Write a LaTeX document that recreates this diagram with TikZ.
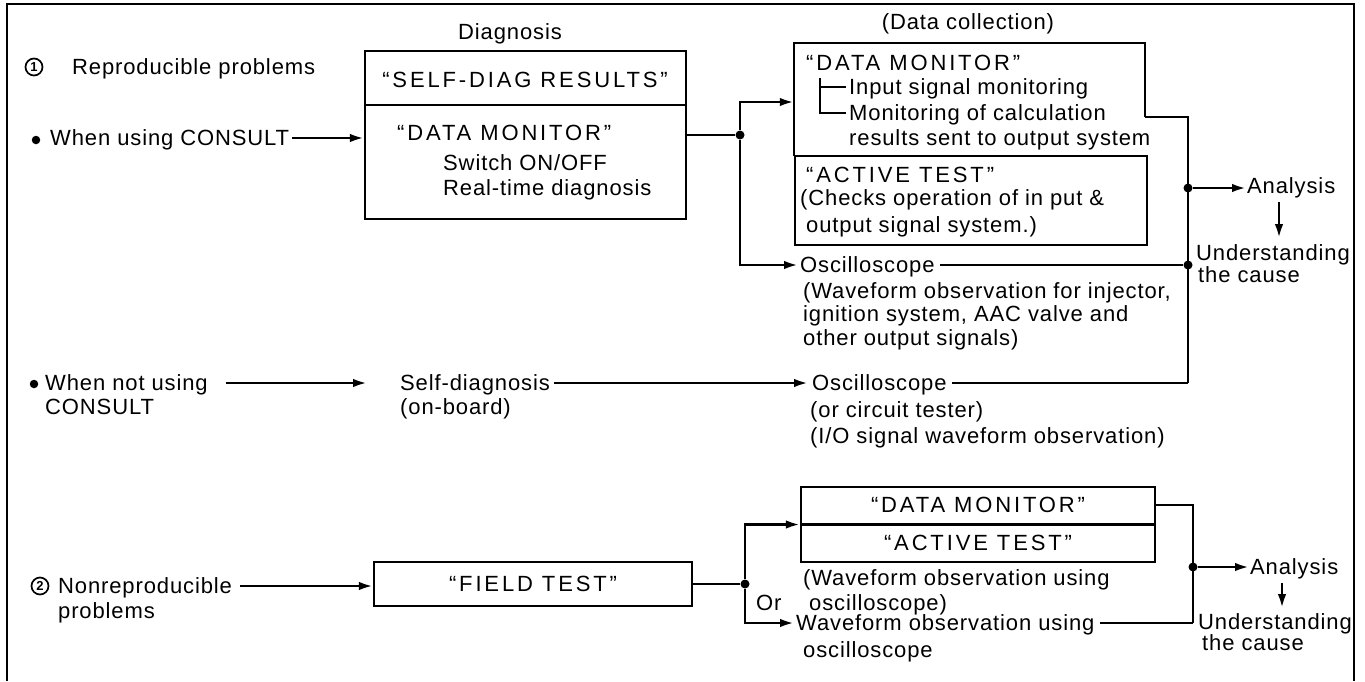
\documentclass[tikz,border=0pt]{standalone}
\usepackage{fontspec}
\setmainfont{Liberation Sans}[LetterSpace=4]
\newfontfamily\capsfont{Liberation Sans}[LetterSpace=13]
\usetikzlibrary{arrows.meta,calc}
\begin{document}
\begin{tikzpicture}[x=1pt,y=-1pt,font=\fontsize{22}{24}\selectfont,
  txt/.style={anchor=west,inner sep=0pt,text height=15.75pt,text depth=0pt},
  ctxt/.style={anchor=center,inner sep=0pt,text height=15.75pt,text depth=0pt},
  caps/.style={font={\capsfont\fontsize{22}{24}\selectfont}},
  circnum/.style={draw,circle,line width=1.7pt,minimum size=17pt,inner sep=0pt,
    font={\bfseries\fontsize{13}{13}\selectfont}},
  bullet/.style={circle,fill,inner sep=0pt,minimum size=8.5pt},
  boxst/.style={draw,line width=2.2pt,inner sep=0pt},
  boxline/.style={line width=2.2pt},
  conn/.style={line width=2.6pt},
  arr/.style={conn,-{Latex[length=14pt,width=8.5pt]}},
  jdot/.style={circle,fill,inner sep=0pt,minimum size=9pt},
  frame/.style={line width=2.2pt}]
\useasboundingbox (0,0) rectangle (1365,681);
% frame
\draw[frame] (7,681) -- (7,4) -- (1354,4) -- (1354,681);

% headings
\node[ctxt] (dcoll) at (968,22) {(Data collection)};
\node[ctxt] (diagh) at (510,32) {Diagnosis};
\node[circnum] (num1) at (34,67) {1};
\node[txt] (repro) at (72,67) {Reproducible problems};

% box A
\node[boxst,minimum width=321pt,minimum height=168pt] (boxA) at (525.5,135) {};
\draw[boxline] (boxA.west |- 0,105) -- (boxA.east |- 0,105);
\node[ctxt,caps] (selfd) at (525,80) {“SELF-DIAG RESULTS”};
\node[txt,caps] (dmA) at (397,133) {“DATA MONITOR”};
\node[txt] (swA) at (443,163) {Switch ON/OFF};
\node[txt] (rtA) at (443,188) {Real-time diagnosis};

\node[bullet] (bul1) at (36,140) {};
\node[txt] (use) at (50,138) {When using CONSULT};
\draw[arr] ([xshift=3pt]use.east) -- (boxA.west |- use.east);

% box B and C
\node[minimum width=351pt,minimum height=113pt,inner sep=0pt] (boxB) at (969.5,99.5) {};
\draw[boxline] (boxB.east |- 0,117) -- (boxB.north east) -- (boxB.north west) -- (boxB.south west);
\node[boxst,minimum width=352pt,minimum height=89pt] (boxC) at (971,200.5) {};
\node[txt,caps] (dmB) at (806,63) {“DATA MONITOR”};
\node[txt] (isig) at (849,87) {Input signal monitoring};
\node[txt] (mcalc) at (849,113) {Monitoring of calculation};
\node[txt] (rsent) at (849,138) {results sent to output system};
\draw[line width=1.6pt] ([xshift=-29pt,yshift=9pt]isig.west) -- ([xshift=-29pt]mcalc.west) -- ([xshift=-3pt]mcalc.west);
\draw[line width=1.6pt] ([xshift=-29pt]isig.west) -- ([xshift=-3pt]isig.west);
\node[txt,caps] (atC) at (806,175) {“ACTIVE TEST”};
\node[txt] (chk1) at (800,198) {(Checks operation of in put \&};
\node[txt] (chk2) at (806,225) {output signal system.)};

% junction after box A
\node[jdot] (j1) at (740,135) {};
\draw[conn] (boxA.east) -- (j1);
\coordinate (j1t) at (740,102);
\draw[arr] (j1) |- (boxB.west |- j1t);
\node[txt] (osc1) at (800,265) {Oscilloscope};
\draw[arr] (j1) |- ([xshift=-2pt]osc1.west);
\node[txt] (wf1) at (803,291) {(Waveform observation for injector,};
\node[txt] (wf2) at (803,314) {ignition system, AAC valve and};
\node[txt] (wf3) at (803,338) {other output signals)};

% right collector, upper
\coordinate (bBx) at (boxB.east |- 0,117);
\coordinate (r1) at (1188,117);
\coordinate (r1b) at (1188,383);
\node[jdot] (j2) at (1188,188) {};
\node[jdot] (j3) at (1188,265) {};
\draw[conn] (bBx) -- (r1) -- (r1b);
\draw[conn] ([xshift=5pt]osc1.east) -- (j3);
\node[txt] (an1) at (1247,186) {Analysis};
\draw[arr,shorten >=1pt] (j2) -- (an1.west |- j2);
\draw[arr] ([xshift=32pt,yshift=-8pt]an1.south west) -- ++(0,36);
\node[txt] (un1) at (1196,253) {Understanding};
\node[txt] (ca1) at (1198,275) {the cause};

% when not using CONSULT
\node[bullet] (bul2) at (34,384) {};
\node[txt] (nu1) at (45,383) {When not using};
\node[txt] (nu2) at (45,407) {CONSULT};
\node[txt] (sd1) at (400,383) {Self-diagnosis};
\node[txt] (sd2) at (400,407) {(on-board)};
\draw[arr] ([xshift=18pt]nu1.east) -- ([xshift=-33pt]sd1.west);
\node[txt] (osc2) at (812,383) {Oscilloscope};
\draw[arr] ([xshift=4pt]sd1.east) -- ([xshift=-4pt]osc2.west);
\draw[conn] ([xshift=5pt]osc2.east) -- (r1b);
\node[txt] (ct) at (810,410) {(or circuit tester)};
\node[txt] (io) at (810,436) {(I/O signal waveform observation)};

% nonreproducible
\node[circnum] (num2) at (40,586) {2};
\node[txt] (nr1) at (58,586) {Nonreproducible};
\node[txt] (nr2) at (58,611) {problems};
\node[boxst,caps,text height=15.75pt,text depth=0pt,minimum width=318pt,minimum height=44pt] (ft) at (533,584) {“FIELD TEST”};
\draw[arr] ([xshift=8pt]nr1.east) -- (ft.west |- nr1.east);
\node[jdot] (j4) at (745,584) {};
\draw[conn] (ft.east) -- (j4);

\node[boxst,minimum width=354pt,minimum height=75pt] (bD) at (978,524.5) {};
\draw[boxline] (bD.west) -- (bD.east);
\node[ctxt,caps] (dmD) at (978,505) {“DATA MONITOR”};
\node[ctxt,caps] (atD) at (978,543) {“ACTIVE TEST”};
\draw[arr] (j4) |- (bD.west);
\node[txt] (wo3) at (796,623) {Waveform observation using};
\draw[arr] (j4) |- ([xshift=-2pt]wo3.west);
\node[txt] (orr) at (756,603) {Or};
\node[txt] (wo1) at (803,578) {(Waveform observation using};
\node[txt] (wo2) at (809,603) {oscilloscope)};
\node[txt] (wo4) at (803,650) {oscilloscope};

% right collector, lower
\coordinate (r2) at (1193,505);
\coordinate (r2b) at (1193,623);
\node[jdot] (j5) at (1193,567) {};
\draw[conn] (bD.east |- r2) -- (r2) -- (r2b);
\draw[conn] ([xshift=5pt]wo3.east) -- (r2b);
\node[txt] (an2) at (1250,567) {Analysis};
\draw[arr,shorten >=1pt] (j5) -- (an2.west |- j5);
\draw[arr] ([xshift=32pt,yshift=-8pt]an2.south west) -- ++(0,25);
\node[txt] (un2) at (1198,622) {Understanding};
\node[txt] (ca2) at (1202,643) {the cause};
\end{tikzpicture}
\end{document}
